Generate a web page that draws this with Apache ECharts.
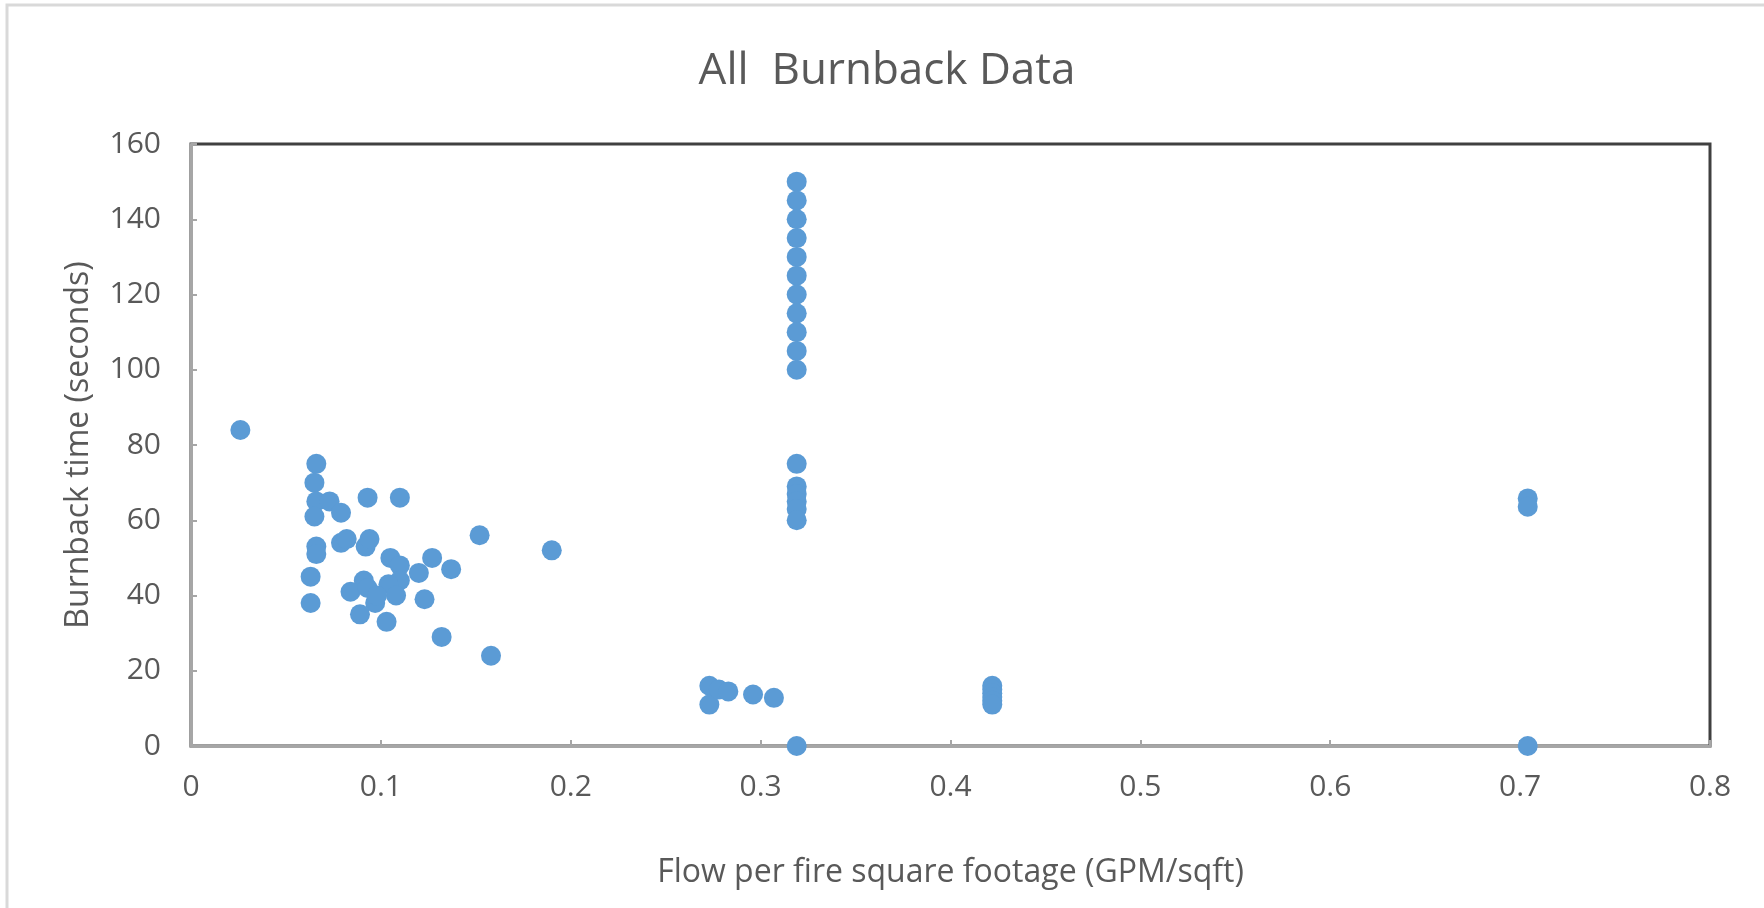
<!DOCTYPE html>
<html>
<head>
<meta charset="utf-8">
<script src="https://cdn.jsdelivr.net/npm/echarts@6/dist/echarts.min.js"></script>
<style>
html,body{margin:0;padding:0;background:#fff;}
#chart{width:1764px;height:908px;}
</style>
</head>
<body>
<div id="chart"></div>
<script>
// Flow per fire square footage (GPM/sqft)
const flowValues = [
  0.026, 0.066, 0.065, 0.066, 0.073, 0.065, 0.079, 0.093, 0.110, 0.152,
  0.190, 0.066, 0.066, 0.079, 0.082, 0.092, 0.094, 0.063, 0.063, 0.105,
  0.110, 0.127, 0.137, 0.120, 0.110, 0.091, 0.084, 0.093, 0.097, 0.104,
  0.108, 0.123, 0.089, 0.103, 0.132, 0.158, 0.098,
  0.273, 0.273, 0.278, 0.283, 0.296, 0.307,
  0.319, 0.319, 0.319, 0.319, 0.319, 0.319, 0.319, 0.319, 0.319, 0.319, 0.319,
  0.319, 0.319, 0.319, 0.319, 0.319, 0.319, 0.319,
  0.422, 0.422, 0.422, 0.422, 0.422, 0.422,
  0.704, 0.704, 0.704
];
// Burnback time (seconds)
const burnbackValues = [
  84, 75, 70, 65, 65, 61, 62, 66, 66, 56,
  52, 53, 51, 54, 55, 53, 55, 45, 38, 50,
  48, 50, 47, 46, 44, 44, 41, 42, 38, 43,
  40, 39, 35, 33, 29, 24, 40,
  16, 11, 15, 14.5, 13.7, 12.8,
  150, 145, 140, 135, 130, 125, 120, 115, 110, 105, 100,
  75, 69, 67, 65, 63, 60, 0,
  16, 15, 14, 13, 12, 11,
  65.8, 63.6, 0
];
const xTicks = [0, 0.1, 0.2, 0.3, 0.4, 0.5, 0.6, 0.7, 0.8];
const yTicks = [0, 20, 40, 60, 80, 100, 120, 140, 160];

const points = flowValues.map((x, i) => [x, burnbackValues[i]]);
const font = '"Open Sans", "Noto Sans", sans-serif';

const chart = echarts.init(document.getElementById('chart'));
chart.setOption({
  animation: false,
  backgroundColor: '#ffffff',
  title: {
    text: 'All  Burnback Data',
    left: 882,
    top: 44,
    textAlign: 'center',
    textStyle: {fontFamily: font, fontSize: 44, fontWeight: 'normal', color: '#595959'}
  },
  graphic: [{
    type: 'rect',
    shape: {x: 7, y: 5, width: 1800, height: 1000},
    style: {fill: 'none', stroke: '#d9d9d9', lineWidth: 3},
    silent: true
  }],
  grid: {
    left: 191, right: 54, top: 144, bottom: 162,
    show: true, borderColor: '#404040', borderWidth: 3, backgroundColor: 'transparent'
  },
  xAxis: {
    type: 'value', min: xTicks[0], max: xTicks[xTicks.length - 1], interval: 0.1,
    name: 'Flow per fire square footage (GPM/sqft)',
    nameLocation: 'middle', nameGap: 111,
    nameTextStyle: {fontFamily: font, fontSize: 32, color: '#595959'},
    axisLine: {show: true, onZero: false, lineStyle: {color: '#a6a6a6', width: 3}},
    axisTick: {show: true, inside: true, length: 6, lineStyle: {color: '#a6a6a6', width: 2}},
    axisLabel: {fontFamily: font, fontSize: 30, color: '#595959', margin: 26,
      formatter: v => String(Math.round(v * 10) / 10)},
    splitLine: {show: false}
  },
  yAxis: {
    type: 'value', min: yTicks[0], max: yTicks[yTicks.length - 1], interval: 20,
    name: 'Burnback time (seconds)',
    nameLocation: 'middle', nameGap: 96,
    nameTextStyle: {fontFamily: font, fontSize: 32, color: '#595959'},
    axisLine: {show: true, onZero: false, lineStyle: {color: '#a6a6a6', width: 3}},
    axisTick: {show: true, inside: true, length: 6, lineStyle: {color: '#a6a6a6', width: 2}},
    axisLabel: {fontFamily: font, fontSize: 30, color: '#595959', margin: 30},
    splitLine: {show: false}
  },
  series: [{
    type: 'scatter',
    data: points,
    symbol: 'circle',
    symbolSize: 20,
    itemStyle: {color: '#5B9BD5', opacity: 1},
    clip: false
  }]
});
</script>
</body>
</html>
